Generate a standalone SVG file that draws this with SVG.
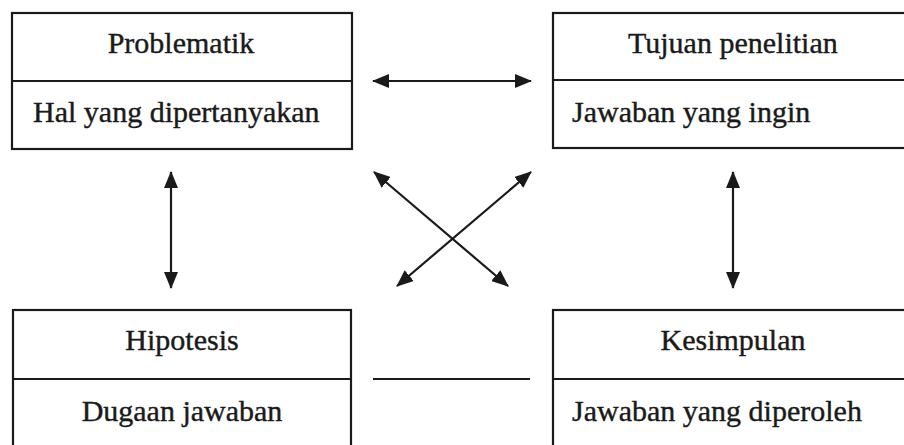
<svg xmlns="http://www.w3.org/2000/svg" width="904" height="445" viewBox="0 0 904 445">
<style>
.box{fill:#fff;stroke:#1a1a1a;stroke-width:2.2}
.div{stroke:#1a1a1a;stroke-width:2.2}
.t{font-family:"Liberation Serif","Times New Roman",serif;font-size:30px;fill:#1a1a1a;stroke:#1a1a1a;stroke-width:0.4}
.c{text-anchor:middle}
.con{stroke:#1a1a1a;stroke-width:2.2;fill:none}
.arr{marker-start:url(#ah);marker-end:url(#ah)}
</style>
<defs>
<marker id="ah" viewBox="0 0 17 14" refX="16" refY="7" markerWidth="17" markerHeight="14" markerUnits="userSpaceOnUse" orient="auto-start-reverse">
<path d="M0,0 L17,7 L0,14 Z" fill="#1a1a1a"/>
</marker>
</defs>
<rect width="904" height="445" fill="#fff"/>
<g id="problematik">
<rect class="box" x="12" y="13" width="340" height="136"/>
<line class="div" x1="12" y1="81" x2="352" y2="81"/>
<text class="t c" x="181" y="53">Problematik</text>
<text class="t" x="33" y="122">Hal yang dipertanyakan</text>
</g>
<g id="tujuan">
<rect class="box" x="553" y="13" width="360" height="135"/>
<line class="div" x1="553" y1="80" x2="913" y2="80"/>
<text class="t" x="628" y="53">Tujuan penelitian</text>
<text class="t" x="572" y="122">Jawaban yang ingin</text>
</g>
<g id="hipotesis">
<rect class="box" x="13" y="310" width="338" height="150"/>
<line class="div" x1="13" y1="379" x2="351" y2="379"/>
<text class="t c" x="182" y="350">Hipotesis</text>
<text class="t c" x="182" y="421">Dugaan jawaban</text>
</g>
<g id="kesimpulan">
<rect class="box" x="553" y="310" width="360" height="150"/>
<line class="div" x1="553" y1="379" x2="913" y2="379"/>
<text class="t c" x="733" y="350">Kesimpulan</text>
<text class="t" x="572" y="421">Jawaban yang diperoleh</text>
</g>
<g id="connectors">
<line class="con arr" x1="373" y1="81" x2="531" y2="81"/>
<line class="con arr" x1="171" y1="172" x2="171" y2="288"/>
<line class="con arr" x1="733" y1="172" x2="733" y2="288"/>
<line class="con arr" x1="374" y1="172" x2="508" y2="286"/>
<line class="con arr" x1="531" y1="172" x2="397" y2="286"/>
<line class="con" x1="373" y1="379" x2="530" y2="379"/>
</g>
</svg>
